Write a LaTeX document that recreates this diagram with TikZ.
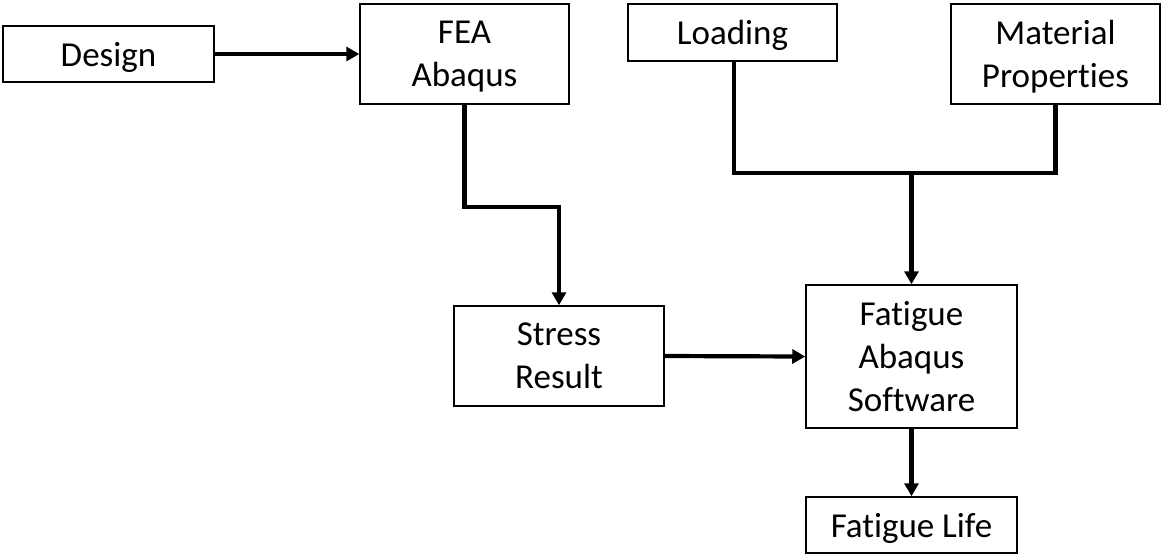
\documentclass[tikz,border=0pt]{standalone}
\usepackage{fontspec}
\setmainfont[Ligatures={NoCommon,NoRare}]{Carlito}
\usetikzlibrary{arrows.meta}
\begin{document}
\begin{tikzpicture}[x=0.5pt,y=-0.5pt,
  box/.style={draw=black,line width=0.75pt,rectangle,inner sep=0pt,align=center,
    text depth=0pt,font=\fontsize{17.5pt}{21.5pt}\selectfont},
  conn/.style={line width=2.1pt},
  arr/.style={conn,-{Triangle[length=6.5pt,width=7pt]}}]
\useasboundingbox (0,0) rectangle (1164,554);
\node[box,minimum width=105.5pt,minimum height=28pt] (design) at (108.5,54) {Design};
\node[box,minimum width=104.5pt,minimum height=50pt] (fea) at (464.5,54) {FEA\\Abaqus};
\node[box,minimum width=104.5pt,minimum height=28.5pt] (load) at (732.5,32.5) {Loading};
\node[box,minimum width=104.5pt,minimum height=50pt] (mat) at (1055.5,54) {Material\\Properties};
\node[box,minimum width=105pt,minimum height=50pt] (stress) at (559,356) {Stress\\Result};
\node[box,minimum width=105.5pt,minimum height=71.5pt] (fat) at (911.5,356.5) {Fatigue\\Abaqus\\Software};
\node[box,minimum width=105.5pt,minimum height=28pt] (life) at (911.5,525) {Fatigue Life};
\coordinate (j) at (911.5,173);
\draw[arr] (design.east) -- (fea.west);
\draw[arr] (fea.south) -- ++(0,102) -| (stress.north);
\draw[conn] (load.south -| 734,0) |- (j) -| (mat.south);
\draw[arr] (j) -- (fat.north);
\draw[arr] (stress.east) -- (fat.west);
\draw[arr] (fat.south) -- (life.north);
\end{tikzpicture}
\end{document}
